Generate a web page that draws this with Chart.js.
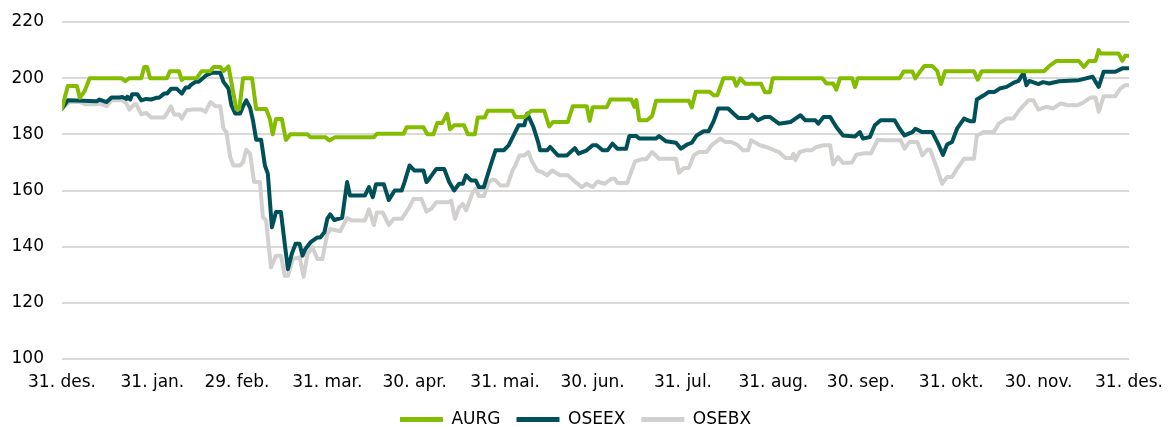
<!DOCTYPE html>
<html>
<head>
<meta charset="utf-8">
<script src="https://cdn.jsdelivr.net/npm/chart.js@4.4.1/dist/chart.umd.min.js"></script>
<style>
  html, body { margin: 0; padding: 0; background: #fff; }
  #wrap { width: 1176px; height: 428px; }
</style>
</head>
<body>
<div id="wrap"><canvas id="chart" width="1176" height="428"></canvas></div>
<script>
// x = days since 31. des., y = indexed value
const tickDays = [0, 31, 60, 91, 121, 152, 182, 213, 244, 274, 305, 335, 366];
const tickLabels = ['31. des.', '31. jan.', '29. feb.', '31. mar.', '30. apr.', '31. mai.', '30. jun.',
  '31. jul.', '31. aug.', '30. sep.', '31. okt.', '30. nov.', '31. des.'];

const aurgDays = [0,2,5.1,6.1,7.8,9.5,20.4,21.7,23.1,27.2,28.2,29.2,30.2,36,37,40.1,41.1,41.8,46.2,47.9,
  50.9,52,54.3,55.4,57.1,59.8,60.8,62.1,65.2,66.6,70,71.3,72.3,73.4,75.4,76.8,78.4,84.2,85.2,90.3,
  91.7,93.7,107,108,117.2,118.2,124,125.3,127.4,128.7,130.4,132.1,133.1,134.5,137.9,139.2,141.6,142.6,145,146,
  154.5,155.5,158.6,161,165.4,167.1,168.4,173.5,175.2,180,181,182,186.8,188.1,195.3,196.3,197,198,200.7,202.4,
  203.8,215,216,217.4,222.1,223.5,224.8,226.9,230.3,231.3,232.7,234.4,239.8,241.1,242.8,243.8,260.8,262.2,264.5,265.6,
  266.9,271,272,273,287.3,288.7,291.7,292.7,294.4,295.8,298.5,300.2,301.5,302.9,312.8,314.1,315.5,336.9,338.6,341,
  348.8,350.5,352.2,354.5,355.6,356.2,362.4,363.7,364.7,366];
const aurgValues = [189.3,197.2,197.2,193,195.5,200,200,198.9,200,200,204,204,200,200,202.5,202.5,199.3,200,200,202.5,
  202.5,204,204,202.5,204.2,189,189,200,200,189,189,185.5,180,185.5,185.5,178,180,180,179,179,
  177.8,179,179,180.2,180.2,182.5,182.5,180,180,184,184,187.3,181.8,183.2,183.2,180,180,186,186,188.4,
  188.4,186.2,186.2,188.4,188.4,182.8,184.4,184.4,190,190,184.8,189.6,189.6,192.4,192.4,189.8,192.2,185,185,186.5,
  192,192,189.6,195.2,195.2,193.9,193.9,200,200,197.3,199.9,198,198,195,195,200,200,198.1,198.1,195.9,
  200,200,196.8,200,200,202.4,202.4,199.9,202.5,204.3,204.3,202.6,197.9,202.5,202.5,199.5,202.5,202.5,204.3,206.1,
  206.1,204,206.1,206.1,210,208.8,208.8,206.2,208,208];

const oseexDays = [0,2,11.9,12.9,15.3,17,19.7,20.7,22.1,22.4,23.4,24.1,25.8,27.2,28.9,30.6,32.3,33.3,35,36,
  37.4,39.4,41.1,42.4,43.5,44.1,45.8,46.9,47.9,49.6,51.3,54.3,55.4,57.1,58.1,59.4,61.1,62.1,63.2,64.5,
  65.5,66.6,68.3,69.6,70.6,72,73.4,75.1,76.4,77.5,78.8,80.1,81.5,82.5,83.5,85.2,87.6,88.6,90,91,
  92,93.4,96.1,97.8,98.8,103.9,105.3,106.6,107.7,110.4,112.1,114.1,116.5,117.5,119.2,120.9,124,125,126,128.4,
  131.1,132.8,134.5,136.2,137.5,138.6,140.3,141.9,143,144.7,147,148.7,151.5,153.2,154.9,156.6,158.6,159.6,161.7,163.3,
  164,166.4,167.4,170.1,173.2,175.9,177.2,180,182,183.4,185.4,187.1,188.8,190.5,193.5,194.6,197,198,203.8,204.8,
  207.2,210.6,212.3,214.3,216,217.7,220.1,221.8,223.5,225.1,228.5,230.3,232,235.3,236.7,238.7,241.1,242.8,245.9,249.9,
  251.6,253.3,255,258.4,259.4,261.2,263.5,265.6,267.9,272,273.7,274.7,277.1,278.8,280.8,285.6,287.3,289,291.7,292.7,
  295.1,298.5,300.5,302.2,303.6,305.3,307,309.4,311.4,312.8,313.8,316.2,317.9,319.9,321.6,324,326.3,328.1,329.8,330.8,
  331.8,334.9,336.5,338.6,342,348.8,353.5,355.6,357.3,361.3,363.7,366];
const oseexValues = [189.2,192.1,191.8,192.4,191.5,193.1,193.1,193.3,192.6,193.4,192.4,194.3,194.3,192.1,192.6,192.4,193,193,194.5,194.5,
  196.2,196.2,194.5,196.7,196.7,197.5,198.7,198.7,199.6,201.1,201.9,201.9,198.7,196.3,190.4,187.4,187.4,190,192.1,189.5,
  185,178.1,178.1,168.9,166,146.9,152.3,152.3,141,132,137.4,141,141,136.8,139.2,141.5,143.3,143.3,145.1,149.9,
  151.5,149.5,150.3,163,158.2,158.2,161.2,157.6,162.2,162.2,156.6,160,160,163,168.9,167.1,167.1,163,164.2,167.7,
  167.7,163,160,162.4,162.4,165.4,163.6,163.6,161.2,161.2,168.9,174.3,174.3,176.1,179.6,183.2,183.2,187.4,182.6,177.3,
  174.3,174.3,175.5,172.5,172.5,175.1,173.1,174.3,176.1,176.1,174.3,174.3,176.7,174.9,174.9,179.4,179.4,178.5,178.5,179.4,
  177.5,177,174.9,176.3,177,179.6,181.1,181.1,184.6,189.2,189.2,187.4,185.8,185.8,187,185,186.2,186.2,183.8,184.4,
  185.6,186.8,185,185,183.8,186.2,186.2,182.6,179.6,179.2,180.8,178.5,179,183.2,185,185,182,179.6,180.8,182,
  180.8,180.8,176.7,172.7,176.4,177.3,182,185.6,184.7,184.7,192.4,193.9,195.1,195.1,196.3,196.9,198.3,199,201.9,197.5,
  199,197.9,198.6,198.1,198.9,199.3,200.5,196.9,202.3,202.3,203.5,203.5];

const osebxDays = [0,2.7,6.1,7.8,11.9,12.9,15.3,17,20.7,22.1,23.1,24.8,25.5,27.2,28.9,30.6,35,36,37.4,38.4,
  40.1,41.1,42.8,44.5,47.9,49.2,50.9,52.6,54.3,55.4,56.4,57.7,58.8,61.1,62.1,63.2,64.5,65.9,67.9,68.9,
  70,71.7,73.4,75.1,76.4,77.5,79.1,81.5,82.9,84.2,85.9,87.6,89.3,91,92,95.4,97.8,99.5,103.9,105.3,
  107,108,110,112.1,113.8,116.5,118.9,120.6,123.3,125,126.7,128.4,132.5,133.5,134.8,136.2,137.5,138.6,140.9,141.9,
  143,144.7,146.4,147.7,148.7,150.4,152.8,154.5,155.5,156.9,158.6,160,161.3,161.7,163,164.7,166.4,168.1,170.8,173.5,
  175.9,178.3,180,181,182,183.7,186.1,188.5,189.5,190.5,193.9,195.3,196.6,198.7,200.4,202.4,204.8,210.6,211.6,213.3,
  215,216.7,218.4,221.1,222.8,225.8,227.5,229.6,231.9,233.6,235.3,236.4,239.4,241.5,245.9,248.2,250.3,250.9,251.6,253,
  255,257.1,258.8,261.2,263.5,264.5,266.2,267.9,271,272.4,275.4,277.5,279.8,282.2,287.6,289,290.7,293.4,295.1,296.8,
  297.8,300.2,301.9,303.6,305.3,307,309.4,312.8,313.8,316.2,319.6,321.3,324,326.3,328.4,331.5,333.2,334.9,337.6,339.9,
  342.6,345,348.4,350.1,352.8,354.5,355.6,357.3,361.3,363,364.7,366];
const osebxValues = [189.2,191.5,191.5,190.7,190.7,191,190,192.1,192.1,191,188.8,190.7,190.7,187.1,187.6,186,186,187.4,190,187.1,
  187.1,185.6,188.6,188.8,188.8,188,191.5,190,190,182,180.8,171.9,168.9,168.9,170.1,174.5,173.1,163,163,150.5,
  149.3,132.6,136.8,136.8,129.6,129.6,135.6,136.2,129.3,137.4,139.8,135.6,135.6,144.5,146.3,145.5,150.2,149.3,149.3,153.3,
  147.7,152.2,152.2,147.7,149.9,149.9,153.6,157,157,152.5,153.5,155.8,155.8,156.4,149.9,154,155.2,152.9,159.4,160.6,
  158,158,163,163.9,163.6,161.8,161.8,167.1,168.9,172.5,172.5,173.7,170.1,169.5,167.1,166.5,165.4,167.1,165.4,165.4,
  163.2,161.2,162.4,161.8,161.2,163.2,162.4,164.2,164.2,162.7,162.7,166.8,170.4,171.1,171.1,173.7,171.3,171.3,166.3,168,
  168,172.5,173.7,173.7,176.1,178.5,177.3,177.3,176.1,174.3,174.3,177.9,176.1,175.5,173.7,171.6,171.6,173.1,170.8,173.7,
  174.3,174.3,175.5,176.1,176.1,169.3,171.9,169.8,170,172.7,173.3,173.2,178.1,177.9,177.9,174.9,177.3,177.3,172.5,174.5,
  174.5,167.7,162.4,164.8,164.8,167.7,171.3,171.3,179.6,180.8,180.8,183.8,185.6,185.6,188.6,192.1,192.1,188.8,189.8,189.2,
  191,190.4,190.4,191.2,193.1,193.1,188,193.6,193.6,196.3,197.5,197.5];

Chart.defaults.font.family = "'DejaVu Sans', sans-serif";
Chart.defaults.font.size = 17;
Chart.defaults.color = '#000';

function lineSet(label, days, values, color) {
  return {
    label: label,
    data: days.map((d, i) => ({ x: d, y: values[i] })),
    borderColor: color,
    backgroundColor: color,
    borderWidth: 4,
    pointRadius: 0,
    pointHoverRadius: 0,
    tension: 0,
    borderJoinStyle: 'round',
    borderCapStyle: 'round'
  };
}

const ctx = document.getElementById('chart').getContext('2d');
new Chart(ctx, {
  type: 'line',
  data: {
    datasets: [
      lineSet('AURG', aurgDays, aurgValues, '#84bd00'),
      lineSet('OSEEX', oseexDays, oseexValues, '#00505a'),
      lineSet('OSEBX', osebxDays, osebxValues, '#d2d0ce')
    ]
  },
  options: {
    responsive: false,
    animation: false,
    devicePixelRatio: 1,
    layout: { padding: { left: 10, right: 35, top: 22, bottom: -10 } },
    plugins: {
      tooltip: { enabled: false },
      legend: {
        position: 'bottom',
        labels: {
          boxWidth: 43,
          boxHeight: 5,
          padding: 16,
          generateLabels: chart => Chart.defaults.plugins.legend.labels.generateLabels(chart)
            .map(l => Object.assign(l, { lineWidth: 0 }))
        }
      }
    },
    scales: {
      x: {
        type: 'linear',
        min: 0,
        max: 366,
        grid: { display: false, drawTicks: false },
        border: { display: false },
        afterBuildTicks: axis => { axis.ticks = tickDays.map(v => ({ value: v })); },
        afterFit: axis => { axis.height = 36; },
        ticks: {
          autoSkip: false,
          maxRotation: 0,
          padding: 13,
          callback: v => tickLabels[tickDays.indexOf(v)]
        }
      },
      y: {
        min: 100,
        max: 220,
        afterFit: axis => { axis.width = 52; axis.paddingTop = 0; axis.paddingBottom = 0; },
        ticks: { stepSize: 20, padding: 18 },
        grid: { color: '#d9d9d9', lineWidth: 2, drawTicks: false },
        border: { display: false }
      }
    }
  }
});
</script>
</body>
</html>
